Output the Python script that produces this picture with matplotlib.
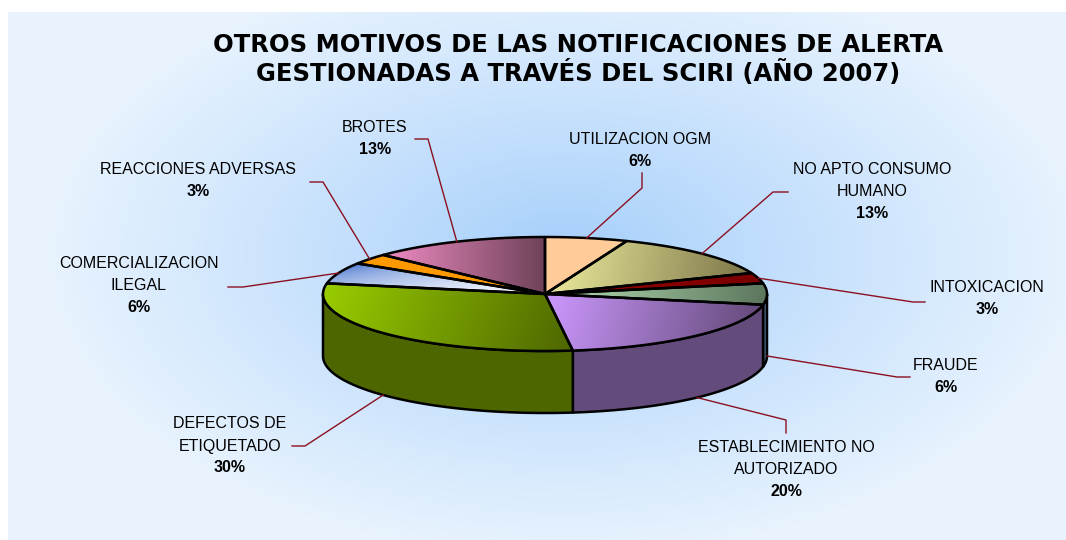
import numpy as np
import matplotlib
matplotlib.use("Agg")
import matplotlib.pyplot as plt
from matplotlib.patches import Polygon
from matplotlib.colors import to_rgb

# ---------------- data ----------------
categories = ["UTILIZACION OGM", "NO APTO CONSUMO\nHUMANO", "INTOXICACION", "FRAUDE",
              "ESTABLECIMIENTO NO\nAUTORIZADO", "DEFECTOS DE\nETIQUETADO",
              "COMERCIALIZACION\nILEGAL", "REACCIONES ADVERSAS", "BROTES"]
percent = [6, 13, 3, 6, 20, 30, 6, 3, 13]
title = "OTROS MOTIVOS DE LAS NOTIFICACIONES DE ALERTA\nGESTIONADAS A TRAVÉS DEL SCIRI (AÑO 2007)"

# ---------------- styles ----------------
top_light = ["#FFCC99", "#EAEA9C", "#990000", "#B6E0B4", "#CC99FF", "#99CC00", "#2F62C8", "#FF9900", "#F08CC4"]
top_dark = ["#FFCC99", "#7C7548", "#7A0000", "#5C765E", "#654A7A", "#4D6600", "#FFFFFF", "#FF9900", "#6E4258"]
grad_dir = [0, 10, 0, 5, 15, 20, 80, 0, 0]  # degrees, screen coords
grad_gamma = [1, 1, 1, 1, 1, 1, 0.45, 1, 1]
side_colors = ["#E0B080", "#6E6A40", "#700000", "#4E6C8A", "#634B7C", "#4D6600", "#3355AA", "#D07800", "#6E4258"]

# layout (pixel coordinates)
CX, CY, A, B, DEPTH = 545, 294, 222, 57, 62
label_pos = [(640, 139), (872, 170), (987, 288), (946, 365), (786, 447),
             (230, 424), (139, 264), (198, 170), (375, 128)]
leader_elbow = [(642, 188), (773, 192), (913, 302), (897, 377), (786, 420),
                (305, 446), (243, 287), (323, 182), (428, 139)]
leader_end = [(642, 173), (788, 192), (925, 302), (910, 377), (786, 433),
              (292, 446), (228, 287), (310, 182), (415, 139)]

W, H = 1066, 540
fig = plt.figure(figsize=(W / 100, H / 100), dpi=100)
fig.patch.set_facecolor("white")
ax = fig.add_axes([0, 0, 1, 1])
ax.set_xlim(0, W)
ax.set_ylim(H, 0)
ax.axis("off")

# ---------------- background ----------------
bx0, by0, bx1, by1 = 8, 12, W, H
xs = np.arange(bx0, bx1) + 0.5
ys = np.arange(by0, by1) + 0.5
X, Y = np.meshgrid(xs, ys)
gcx, gcy = 565, 255
t = np.sqrt(((X - gcx) / 520.0) ** 2 + ((Y - gcy) / 300.0) ** 2)
t = np.clip(t, 0, 1) ** 0.9
c_in = np.array(to_rgb("#A4CEFB"))
c_out = np.array(to_rgb("#E8F3FE"))
img = c_in[None, None, :] * (1 - t[..., None]) + c_out[None, None, :] * t[..., None]
ax.imshow(img, extent=(bx0, bx1, by1, by0), origin="upper", interpolation="bilinear", zorder=0)

# ---------------- pie geometry ----------------
def pt(theta_deg, dy=0.0):
    th = np.radians(theta_deg)
    return CX + A * np.sin(th), CY - B * np.cos(th) + dy

cum = np.concatenate([[0], np.cumsum(percent)]) / np.sum(percent) * 360.0

def gradient_fill(poly_xy, c1, c2, ang, gamma, z):
    poly_xy = np.asarray(poly_xy)
    x0, y0 = poly_xy.min(axis=0)
    x1, y1 = poly_xy.max(axis=0)
    x0, y0 = np.floor(x0) - 1, np.floor(y0) - 1
    x1, y1 = np.ceil(x1) + 1, np.ceil(y1) + 1
    gx = np.arange(x0, x1) + 0.5
    gy = np.arange(y0, y1) + 0.5
    GX, GY = np.meshgrid(gx, gy)
    d = np.array([np.cos(np.radians(ang)), np.sin(np.radians(ang))])
    proj = GX * d[0] + GY * d[1]
    pv = poly_xy @ d
    tt = np.clip((proj - pv.min()) / max(pv.max() - pv.min(), 1e-6), 0, 1) ** gamma
    a1, a2 = np.array(to_rgb(c1)), np.array(to_rgb(c2))
    im = a1[None, None, :] * (1 - tt[..., None]) + a2[None, None, :] * tt[..., None]
    patch = Polygon(poly_xy, closed=True, facecolor="none", edgecolor="none", zorder=z)
    ax.add_patch(patch)
    imo = ax.imshow(im, extent=(x0, x1, y1, y0), origin="upper", interpolation="bilinear", zorder=z)
    imo.set_clip_path(patch)

# side walls (front half: 90..270 deg)
for i in range(len(percent)):
    s, e = max(cum[i], 90), min(cum[i + 1], 270)
    if e <= s:
        continue
    th = np.linspace(s, e, 80)
    top = [pt(v) for v in th]
    bot = [pt(v, DEPTH) for v in th[::-1]]
    ax.add_patch(Polygon(top + bot, closed=True, facecolor=side_colors[i],
                         edgecolor="black", lw=1.8, joinstyle="round", zorder=2))

# top faces
for i in range(len(percent)):
    th = np.linspace(cum[i], cum[i + 1], 120)
    poly = [(CX, CY)] + [pt(v) for v in th]
    gradient_fill(poly, top_light[i], top_dark[i], grad_dir[i], grad_gamma[i], 3)
    ax.add_patch(Polygon(poly, closed=True, facecolor="none", edgecolor="black",
                         lw=1.8, joinstyle="round", zorder=4))

# ---------------- labels and leaders ----------------
lead_col = "#8B1020"
for i in range(len(percent)):
    mid = (cum[i] + cum[i + 1]) / 2
    front = 89 <= mid <= 271
    ax_, ay_ = pt(mid, DEPTH if front else 0)
    ex, ey = leader_elbow[i]
    fx, fy = leader_end[i]
    ax.plot([ax_, ex, fx], [ay_, ey, fy], color=lead_col, lw=1.0, zorder=5)
    lx, ly = label_pos[i]
    lines = categories[i].split("\n")
    for k, ln in enumerate(lines):
        ax.text(lx, ly + 22 * k, ln, ha="center", va="center", fontsize=11.5,
                family="Liberation Sans", color="black", zorder=6)
    ax.text(lx, ly + 22 * len(lines), f"{percent[i]}%", ha="center", va="center",
            fontsize=11.5, family="Liberation Sans", fontweight="bold", color="black", zorder=6)

# ---------------- title ----------------
tl = title.split("\n")
ax.text(578, 45, tl[0], ha="center", va="center", fontsize=17.5, fontweight="bold",
        family="DejaVu Sans", color="black", zorder=6)
ax.text(578, 73, tl[1], ha="center", va="center", fontsize=17.5, fontweight="bold",
        family="DejaVu Sans", color="black", zorder=6)

fig.savefig("out.png", dpi=100, facecolor="white")
